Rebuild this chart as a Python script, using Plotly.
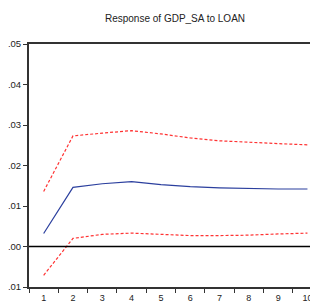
import plotly.graph_objects as go

periods = [1, 2, 3, 4, 5, 6, 7, 8, 9, 10]
response = [0.0032, 0.0146, 0.0155, 0.0160, 0.0153, 0.0148, 0.0145, 0.0143, 0.0142, 0.0142]
upper = [0.0136, 0.0273, 0.0280, 0.0286, 0.0278, 0.0268, 0.0261, 0.0257, 0.0254, 0.0251]
lower = [-0.0071, 0.0020, 0.0030, 0.0033, 0.0030, 0.0027, 0.0027, 0.0028, 0.0031, 0.0033]
ytick_vals = [0.05, 0.04, 0.03, 0.02, 0.01, 0.00, -0.01]
ytick_text = [".05", ".04", ".03", ".02", ".01", ".00", ".01"]
xtick_text = [str(p) for p in periods]
title = "Response of GDP_SA to LOAN"

FONT = "Liberation Sans Narrow, Arial Narrow, Liberation Sans, Arial"

# page has an 8px default body margin; figure size compensates
W, H = 310, 294

fig = go.Figure()
fig.add_trace(go.Scatter(x=periods, y=upper, mode="lines",
                         line=dict(color="#ff3333", width=1.2, dash="3px,2px")))
fig.add_trace(go.Scatter(x=periods, y=lower, mode="lines",
                         line=dict(color="#ff3333", width=1.2, dash="3px,2px")))
fig.add_trace(go.Scatter(x=periods, y=response, mode="lines",
                         line=dict(color="#2b3f9e", width=1.2)))

fig.add_hline(y=0, line=dict(color="black", width=1.3))

xr = [0.5, 10.36]
fig.update_layout(
    width=W, height=H,
    margin=dict(l=21, r=0, t=36, b=15, autoexpand=False),
    paper_bgcolor="white", plot_bgcolor="white",
    showlegend=False,
    title=dict(text=title, x=167 / W, xanchor="center", y=1 - 10 / H, yanchor="middle",
               xref="container", yref="container",
               font=dict(family=FONT, size=10, color="#222")),
    font=dict(family=FONT, size=9.5, color="#222"),
    xaxis=dict(range=xr, tickvals=periods, ticktext=xtick_text,
               ticks="outside", ticklen=1, tickcolor="rgba(0,0,0,0)",
               minor=dict(tickvals=[p - 0.5 for p in periods], ticks="outside",
                          ticklen=4, tickwidth=1, tickcolor="#333", showgrid=False),
               showgrid=False, zeroline=False, showline=True, linecolor="#333",
               linewidth=1.5, mirror=True, automargin=False, tickfont=dict(size=9)),
    yaxis=dict(range=[-0.01, 0.05], tickvals=ytick_vals, ticktext=ytick_text,
               ticks="outside", ticklen=4, tickwidth=1, tickcolor="#333",
               showgrid=False, zeroline=False, showline=True, linecolor="#333",
               linewidth=2, mirror=False, automargin=False, tickfont=dict(size=9.5)),
)

fig.write_html("out.html")
